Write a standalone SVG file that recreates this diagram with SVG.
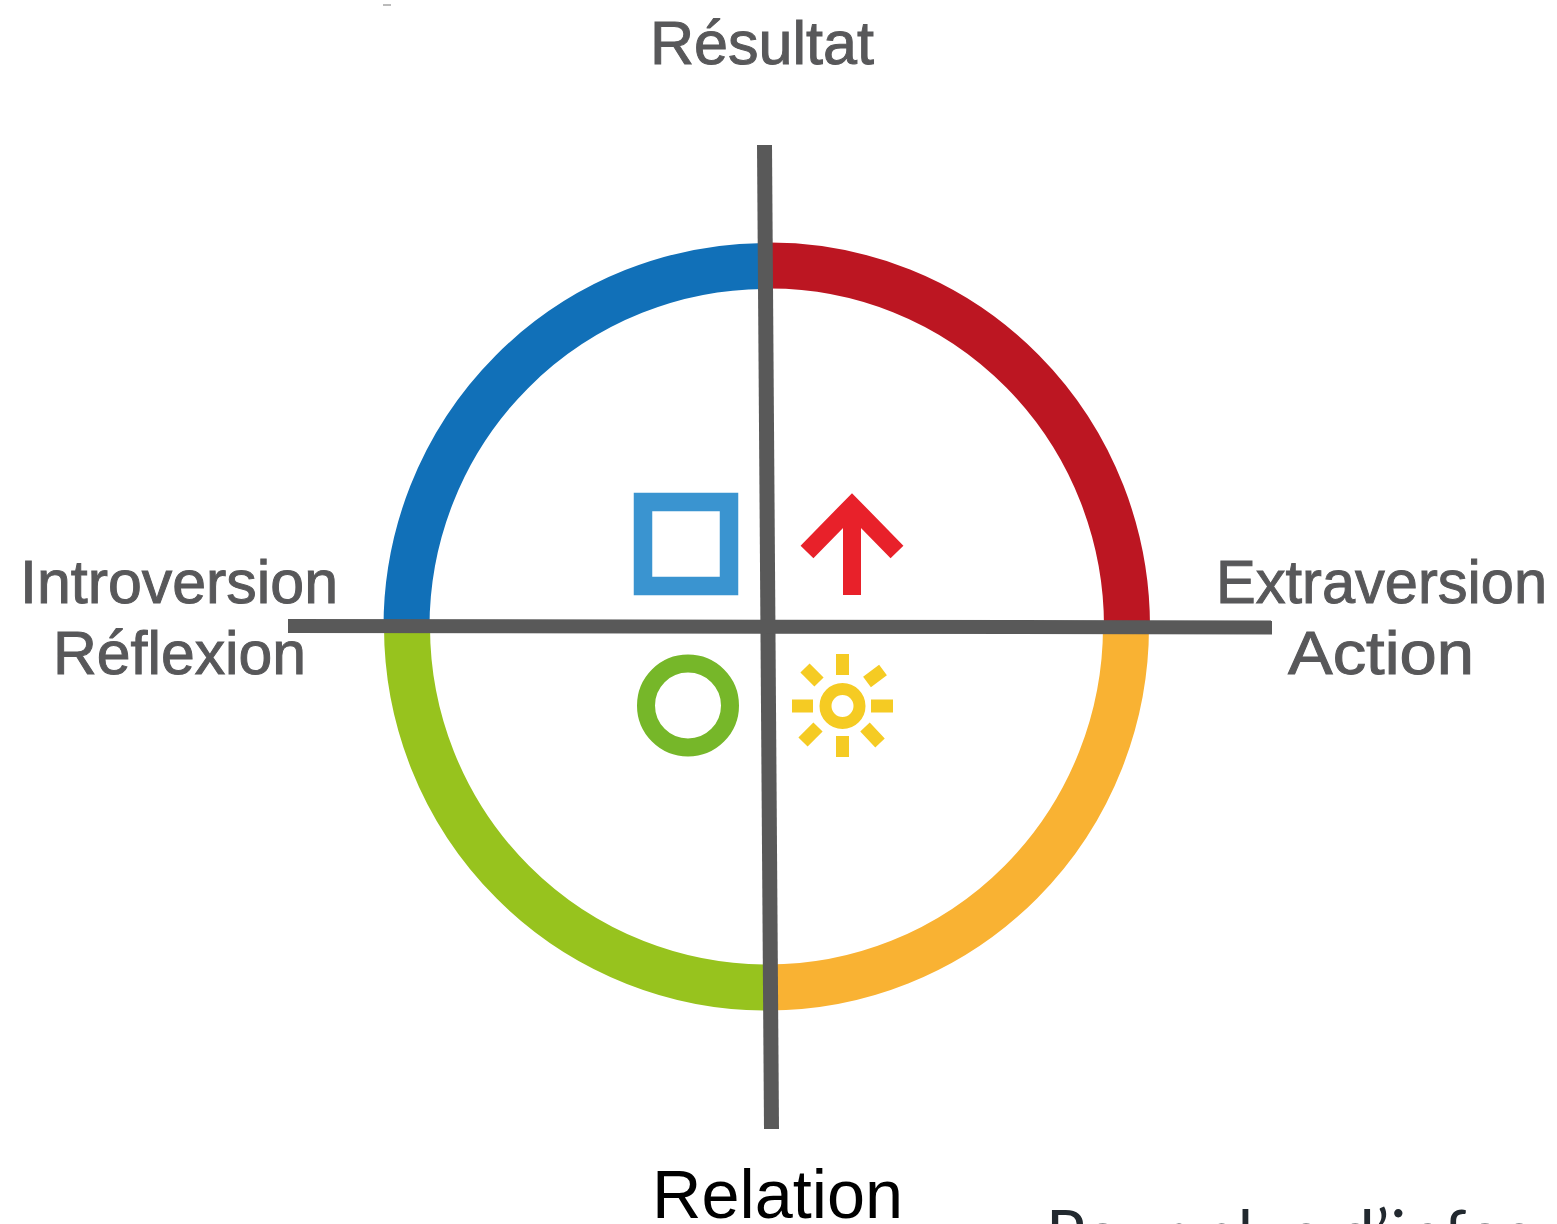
<svg xmlns="http://www.w3.org/2000/svg" width="1557" height="1224" viewBox="0 0 1557 1224">
<style>
.arc{fill:none;stroke-width:46}
.axis{stroke:#595959;stroke-width:15;fill:none}
.lbl{font-family:"Liberation Sans",Arial,sans-serif;font-size:61px;fill:#58585a;stroke:#58585a;stroke-width:1}
.sun{stroke:#f5cb23;stroke-width:13;fill:none}
</style>
<rect width="1557" height="1224" fill="#fff"/>
<path d="M383 5H391" stroke="#bbb" stroke-width="2"/>
<g id="arcs">
<path id="arc-blue" class="arc" stroke="#1170b8" d="M406.500 627A360 361 0 0 1 766 266"/>
<path id="arc-red" class="arc" stroke="#bc1622" d="M770 265.500A357 361 0 0 1 1127 627"/>
<path id="arc-green" class="arc" stroke="#97c31e" d="M407 627A360 361 0 0 0 768 987.500"/>
<path id="arc-orange" class="arc" stroke="#f9b233" d="M768 987.500A358 361 0 0 0 1126 627"/>
</g>
<g id="connectors">
<path class="axis" d="M764.500 145L771.500 1129"/>
<path class="axis" style="stroke-width:14" d="M288 626L1272 627.500"/>
</g>
<g id="node-square"><rect x="643" y="502" width="86" height="84" fill="none" stroke="#3a94d0" stroke-width="18.500"/></g>
<g id="node-arrow"><path d="M852 595V505M807 552L852 506L897 552" fill="none" stroke="#e8212a" stroke-width="18"/></g>
<g id="node-circle"><circle cx="688" cy="705.500" r="42" fill="none" stroke="#76b729" stroke-width="18"/></g>
<g id="node-sun">
<circle cx="842.500" cy="706" r="17" fill="none" stroke="#f5cb23" stroke-width="12"/>
<path class="sun" d="M842.500 654V675M842.500 736V757M792 706H813M871 706H893M805 668L819 682M867 682L883 670M803 742L818 727M865 727L880 743"/>
</g>
<g id="labels">
<text class="lbl" x="650" y="64" textLength="224" lengthAdjust="spacingAndGlyphs">Résultat</text>
<text class="lbl" x="20" y="603" textLength="318" lengthAdjust="spacingAndGlyphs">Introversion</text>
<text class="lbl" x="53" y="674" textLength="253" lengthAdjust="spacingAndGlyphs">Réflexion</text>
<text class="lbl" x="1216" y="603" textLength="331" lengthAdjust="spacingAndGlyphs">Extraversion</text>
<text class="lbl" x="1288" y="674" textLength="186" lengthAdjust="spacingAndGlyphs">Action</text>
<text x="652" y="1218" font-family="'Liberation Sans',Arial,sans-serif" font-size="68" fill="#000" textLength="251" lengthAdjust="spacingAndGlyphs">Relation</text>
<text x="1046" y="1257" font-family="Lato,'Open Sans',sans-serif" font-size="65" letter-spacing="1" fill="#22292f">Pour plus d’infos</text>
</g>
</svg>
